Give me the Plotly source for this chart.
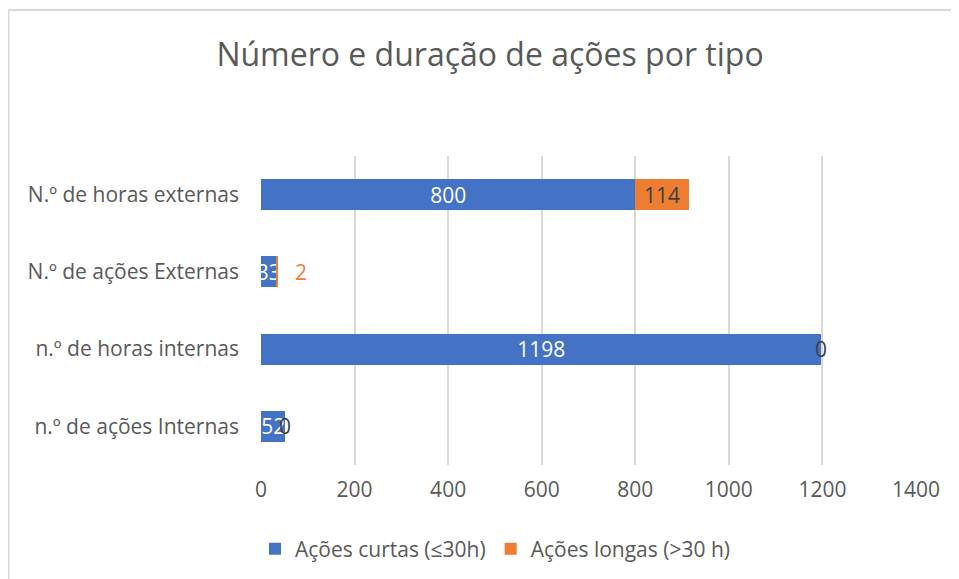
import plotly.graph_objects as go

categories = ["n.º de ações Internas", "n.º de horas internas", "N.º de ações Externas", "N.º de horas externas"]
curtas = [52, 1198, 33, 800]
longas = [0, 0, 2, 114]
series_names = ["Ações curtas (≤30h)", "Ações longas (>30 h)"]
x_ticks = [0, 200, 400, 600, 800, 1000, 1200, 1400]
title_text = "Número e duração de ações por tipo"

BLUE = "#4472C4"
ORANGE = "#ED7D31"
GRID = "#D9D9D9"
TXT = "#595959"
FONT = "Open Sans"

W, H = 951, 571
L, R, T, B = 253, 43, 148, 114
PW = W - L - R
PH = H - T - B

fig = go.Figure()
fig.add_trace(go.Bar(
    y=categories, x=curtas, orientation="h", name=series_names[0],
    marker=dict(color=BLUE, line=dict(width=0)),
    text=[str(v) for v in curtas], textposition="inside", insidetextanchor="middle",
    textangle=0, constraintext="none",
    textfont=dict(color="white", size=21, family=FONT),
))
long_text = [str(v) if v >= 10 else "" for v in longas]
fig.add_trace(go.Bar(
    y=categories, x=longas, orientation="h", name=series_names[1],
    marker=dict(color=ORANGE, line=dict(width=0)),
    text=long_text, textposition="inside", insidetextanchor="middle",
    textangle=0, constraintext="none",
    textfont=dict(color="#404040", size=21, family=FONT),
))

for c, s, l in zip(categories, curtas, longas):
    if l < 10:
        if l == 0:
            fig.add_annotation(x=s + l, y=c, text=str(l), showarrow=False,
                               xanchor="center", font=dict(color="#404040", size=21, family=FONT))
        else:
            fig.add_annotation(x=s + l, y=c, text=str(l), showarrow=False,
                               xanchor="left", xshift=16, font=dict(color=ORANGE, size=21, family=FONT))

fig.update_layout(
    width=W, height=H,
    barmode="stack", bargap=0.6,
    paper_bgcolor="white", plot_bgcolor="white",
    margin=dict(l=L, r=R, t=T, b=B, autoexpand=False),
    title=dict(text=title_text, x=482 / W, xanchor="center", y=1 - 47 / H, yanchor="middle",
               font=dict(size=32, color=TXT, family=FONT)),
    font=dict(family=FONT, color=TXT, size=21),
    xaxis=dict(range=[0, 1400], tickvals=x_ticks, showgrid=True, gridcolor=GRID, gridwidth=1.5,
               zeroline=False, showline=False, ticks="", tickfont=dict(size=21, color=TXT),
               ticklabelstandoff=10, fixedrange=True),
    yaxis=dict(showgrid=False, zeroline=False, showline=False, ticks="", ticklabelstandoff=21,
               tickfont=dict(size=21, color=TXT), categoryorder="array", categoryarray=categories),
    legend=dict(orientation="h", x=(487 - L) / PW, xanchor="center", y=(T + PH - 541) / PH,
                yanchor="middle", font=dict(size=21, color=TXT, family=FONT), itemwidth=30,
                traceorder="normal"),
    showlegend=True,
)
# outer chart border: only top and left edges are visible in the reference crop
fig.add_shape(type="line", xref="paper", yref="paper",
              x0=(0.5 - L) / PW, x1=(1200 - L) / PW,
              y0=(T + PH - 2) / PH, y1=(T + PH - 2) / PH,
              line=dict(color=GRID, width=2), layer="below")
fig.add_shape(type="line", xref="paper", yref="paper",
              x0=(0.5 - L) / PW, x1=(0.5 - L) / PW,
              y0=(T + PH - 800) / PH, y1=(T + PH - 2) / PH,
              line=dict(color=GRID, width=2), layer="below")

fig.write_html("out.html")
